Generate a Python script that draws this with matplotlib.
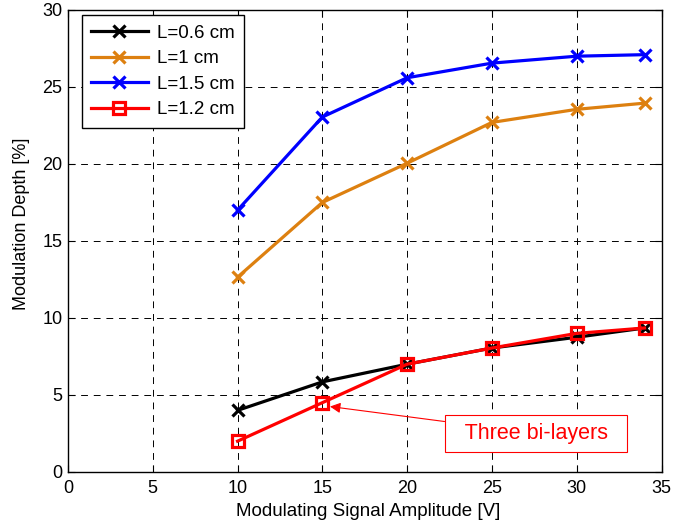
import matplotlib
matplotlib.use("Agg")
import matplotlib.pyplot as plt

plt.rcParams['font.family'] = ['Liberation Sans', 'DejaVu Sans']

x = [10, 15, 20, 25, 30, 34]
d06 = [4.0, 5.85, 7.0, 8.05, 8.75, 9.35]
d10 = [12.65, 17.5, 20.05, 22.7, 23.55, 23.95]
d15 = [17.0, 23.05, 25.6, 26.55, 27.0, 27.1]
d12 = [2.0, 4.5, 7.0, 8.05, 9.0, 9.35]

fig = plt.figure(figsize=(6.75, 5.29), dpi=100)
ax = fig.add_axes([0.1007, 0.1078, 0.8793, 0.8733])

ax.plot(x, d06, color='black', lw=2.3, marker='x', ms=9, mew=2.3, label='L=0.6 cm')
ax.plot(x, d10, color='#dd8010', lw=2.3, marker='x', ms=9, mew=2.3, label='L=1 cm')
ax.plot(x, d15, color='blue', lw=2.3, marker='x', ms=9, mew=2.3, label='L=1.5 cm')
ax.plot(x, d12, color='red', lw=2.3, marker='s', ms=8.5, mew=2.3, mfc='none', label='L=1.2 cm')

ax.annotate('  Three bi-layers  ', xy=(15.45, 4.25), xytext=(27.6, 2.5),
            color='red', fontsize=15.5, ha='center', va='center',
            bbox=dict(boxstyle='square,pad=0.35', fc='white', ec='red', lw=0.8),
            arrowprops=dict(arrowstyle='-|>', color='red', lw=0.8, shrinkA=0, shrinkB=0))

ax.set_xlim(0, 35)
ax.set_ylim(0, 30)
ax.set_xticks(range(0, 36, 5))
ax.set_yticks(range(0, 31, 5))
ax.grid(True, color='black', ls=(0, (7, 6)), lw=0.7)
ax.tick_params(direction='in', top=True, right=True, labelsize=13, length=5)
ax.tick_params(axis='x', pad=5.5)
ax.tick_params(axis='y', pad=4)
for s in ax.spines.values():
    s.set_linewidth(1)
ax.set_xlabel('Modulating Signal Amplitude [V]', fontsize=13.5)
ax.set_ylabel('Modulation Depth [%]', fontsize=13)
ax.xaxis.set_label_coords(0.505, -0.067)
ax.yaxis.set_label_coords(-0.064, 0.537)
leg = ax.legend(loc='upper left', bbox_to_anchor=(0.0236, 0.989), borderaxespad=0,
                fontsize=13.5, fancybox=False, edgecolor='black', framealpha=1,
                handlelength=3, handletextpad=0.5, labelspacing=0.45, borderpad=0.5)
leg.get_frame().set_linewidth(1)

fig.savefig('out.png', dpi=100)
